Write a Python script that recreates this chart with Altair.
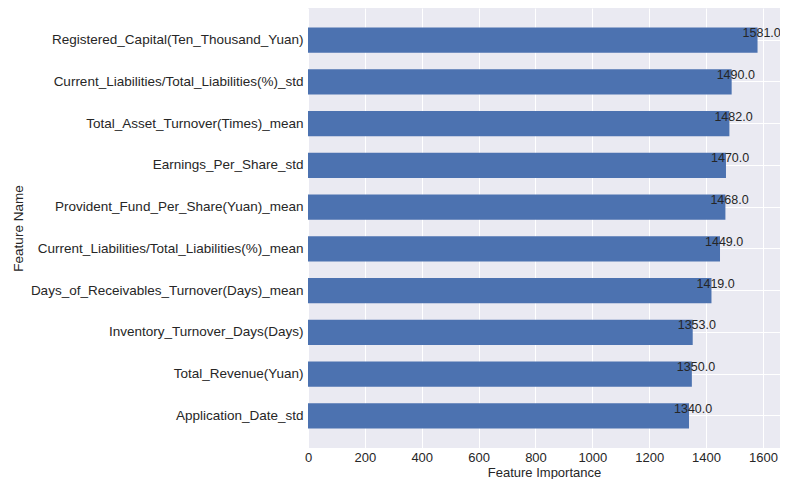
import altair as alt
import pandas as pd

features = [
    "Registered_Capital(Ten_Thousand_Yuan)",
    "Current_Liabilities/Total_Liabilities(%)_std",
    "Total_Asset_Turnover(Times)_mean",
    "Earnings_Per_Share_std",
    "Provident_Fund_Per_Share(Yuan)_mean",
    "Current_Liabilities/Total_Liabilities(%)_mean",
    "Days_of_Receivables_Turnover(Days)_mean",
    "Inventory_Turnover_Days(Days)",
    "Total_Revenue(Yuan)",
    "Application_Date_std",
]
importance = [1581, 1490, 1482, 1470, 1468, 1449, 1419, 1353, 1350, 1340]
x_ticks = [0, 200, 400, 600, 800, 1000, 1200, 1400, 1600]

df = pd.DataFrame({"feature": features, "importance": importance})
df["label"] = [f"{v:.1f}" for v in importance]

FONT = "Liberation Sans"
TXT = "#262626"
FS = 13.5

y_enc = alt.Y(
    "feature:N",
    sort=features,
    title="Feature Name",
    scale=alt.Scale(paddingInner=0.4, paddingOuter=0.47),
    axis=alt.Axis(
        labelFont=FONT, labelFontSize=FS, labelColor=TXT, labelPadding=5,
        ticks=False, domain=False, grid=True, gridColor="white", gridWidth=1,
        bandPosition=0.5, titleFont=FONT, titleFontSize=FS, titleColor=TXT,
        titleFontWeight="normal", labelLimit=400,
        titleX=-290, titleY=220, titleAngle=270, titleAlign="center",
        titleBaseline="middle",
    ),
)
x_enc = alt.X(
    "importance:Q",
    title="Feature Importance",
    scale=alt.Scale(domain=[0, 1660], nice=False, zero=True),
    axis=alt.Axis(
        values=x_ticks, format="d", labelFont=FONT, labelFontSize=13, labelColor=TXT,
        labelPadding=3, ticks=False, domain=False, grid=True, gridColor="white",
        gridWidth=1, titleFont=FONT, titleFontSize=13, titleColor=TXT,
        titleFontWeight="normal", titleY=28, titleBaseline="alphabetic",
        labelFlush=False,
    ),
)

bars = alt.Chart(df).mark_bar(color="#4C72B0").encode(x=x_enc, y=y_enc)
texts = alt.Chart(df).mark_text(
    align="left", baseline="middle", dx=-15, dy=-7, font=FONT, fontSize=12.5, color=TXT
).encode(x="importance:Q", y=alt.Y("feature:N", sort=features), text="label:N")

chart = (
    alt.layer(bars, texts)
    .properties(
        width=472, height=440,
        autosize=alt.AutoSizeParams(type="none"),
        padding={"left": 300, "top": 0, "right": 0, "bottom": 31},
        view=alt.ViewBackground(fill="#EAEAF2", strokeWidth=0),
    )
    .configure_view(fill="#EAEAF2", strokeWidth=0)
    .configure(background="white")
)
chart.save("out.html", embed_options={"renderer": "svg", "actions": False})
